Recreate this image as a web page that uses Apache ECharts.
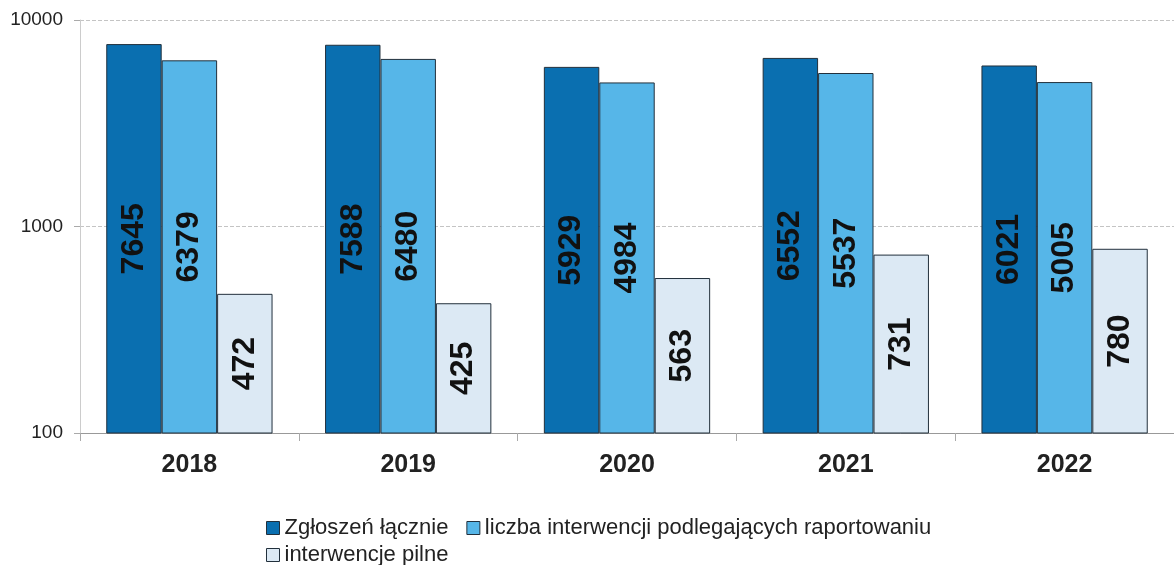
<!DOCTYPE html>
<html>
<head>
<meta charset="utf-8">
<script src="https://cdn.jsdelivr.net/npm/echarts@6/dist/echarts.min.js"></script>
<style>
  html, body { margin: 0; padding: 0; background: #fff; }
  #chart { width: 1174px; height: 565px; }
</style>
</head>
<body>
<div id="chart"></div>
<script>
const lata = ['2018', '2019', '2020', '2021', '2022'];
const zgloszenLacznie = [7645, 7588, 5929, 6552, 6021];
const interwencjeRaport = [6379, 6480, 4984, 5537, 5005];
const interwencjePilne = [472, 425, 563, 731, 780];

const chart = echarts.init(document.getElementById('chart'));

const etykieta = {
  show: true,
  position: 'inside',
  rotate: 90,
  color: '#111',
  fontSize: 32,
  fontWeight: 'bold',
  fontFamily: 'Liberation Sans, Arial, sans-serif'
};

function seria(nazwa, dane, kolor) {
  return {
    name: nazwa,
    type: 'bar',
    data: dane,
    barGap: '0%',
    barCategoryGap: '24%',
    itemStyle: { color: kolor, borderColor: '#22303c', borderWidth: 1 },
    label: etykieta
  };
}

// wspólny wygląd legendy (dwa wiersze jak w oryginale)
const legendaStyl = {
  itemWidth: 13,
  itemHeight: 13,
  itemGap: 18,
  icon: 'rect',
  itemStyle: { borderColor: '#22303c', borderWidth: 1 },
  textStyle: { fontSize: 22, color: '#222' }
};

chart.setOption({
  animation: false,
  textStyle: { fontFamily: 'Liberation Sans, Arial, sans-serif' },
  grid: { left: 80, right: -6, top: 20, bottom: 132 },
  legend: [
    Object.assign({ data: ['Zgłoszeń łącznie', 'liczba interwencji podlegających raportowaniu'], left: 261, top: 512 }, legendaStyl),
    Object.assign({ data: ['interwencje pilne'], left: 261, top: 539 }, legendaStyl)
  ],
  xAxis: {
    type: 'category',
    data: lata,
    axisLine: { lineStyle: { color: '#999' } },
    axisTick: { show: true, length: 8, lineStyle: { color: '#aaa' } },
    axisLabel: { fontSize: 25, fontWeight: 'bold', color: '#222', margin: 20 }
  },
  yAxis: {
    type: 'log',
    logBase: 10,
    min: 100,
    max: 10000,
    axisLine: { show: true, lineStyle: { color: '#ccc' } },
    axisTick: { show: true, length: 6, lineStyle: { color: '#aaa' } },
    axisLabel: { fontSize: 19, color: '#222', margin: 17, formatter: v => String(Math.round(v)) },
    splitLine: { show: true, lineStyle: { color: '#c4c4c4', type: 'dashed', width: 1 } }
  },
  series: [
    seria('Zgłoszeń łącznie', zgloszenLacznie, '#0a6fb0'),
    seria('liczba interwencji podlegających raportowaniu', interwencjeRaport, '#56b6e8'),
    seria('interwencje pilne', interwencjePilne, '#dce9f4')
  ]
});
</script>
</body>
</html>
